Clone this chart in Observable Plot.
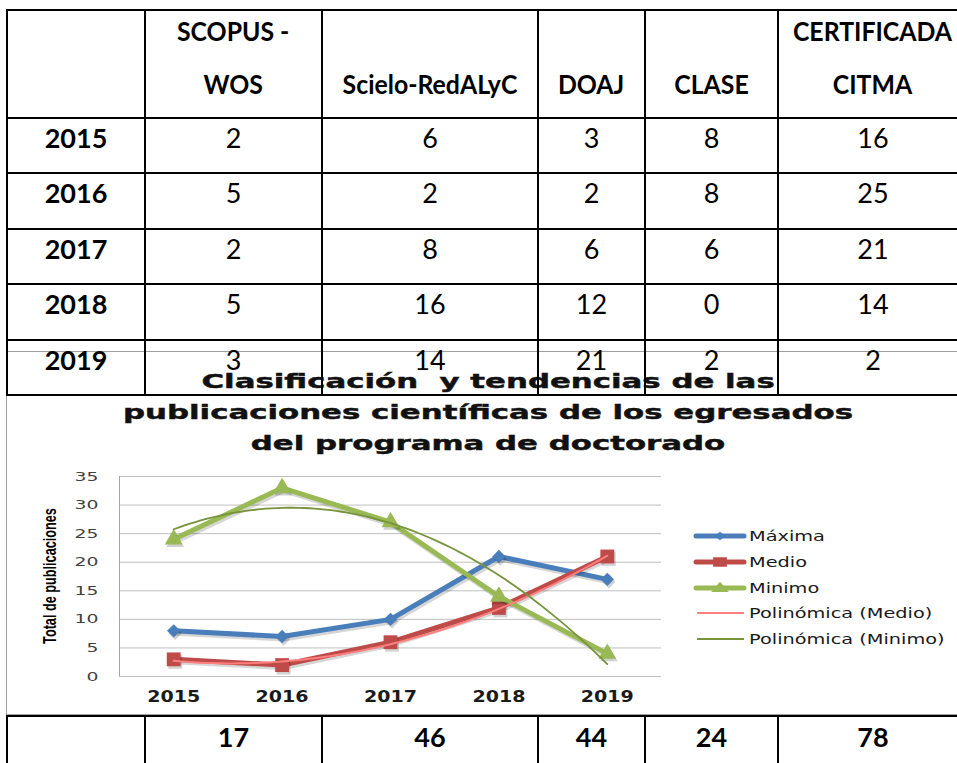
<!DOCTYPE html>
<html><head><meta charset="utf-8">
<script src="https://cdn.jsdelivr.net/npm/d3@7"></script>
<script src="https://cdn.jsdelivr.net/npm/@observablehq/plot@0.6"></script>
<style>
html,body{margin:0;padding:0;background:#fff;}
#root{position:relative;width:957px;height:763px;overflow:hidden;background:#fff;}
#box{position:absolute;left:6px;top:351px;width:1000px;height:362px;border:1.5px solid #a0a0a0;background:#fff;}
#title{position:absolute;left:0;top:366px;width:976px;text-align:center;font-family:"DejaVu Sans";font-weight:bold;font-size:20px;line-height:31px;color:#111;white-space:pre;-webkit-text-stroke:0.45px #111;}
#title div span{display:inline-block;transform:scaleX(1.54);}
#chart{position:absolute;left:7px;top:460px;}
#ytitle{position:absolute;left:50px;top:576px;transform-origin:0 0;transform:scaleX(1.5) rotate(-90deg) translate(-50%,-50%);font-family:"Liberation Sans";font-weight:bold;font-size:12.7px;white-space:nowrap;color:#000;}
.leg{position:absolute;height:20px;white-space:nowrap;}
.leg svg{position:absolute;left:0;top:0;}
.leg span{position:absolute;left:56px;top:0;line-height:20px;font-family:"DejaVu Sans";font-size:13.5px;color:#1a1a1a;transform-origin:0 50%;transform:scaleX(1.43);}
table{position:absolute;border-collapse:collapse;table-layout:fixed;font-family:Lato,"Liberation Sans",sans-serif;font-size:27px;color:#000;}
td,th{border:2px solid #000;padding:0;text-align:center;vertical-align:top;line-height:38px;overflow:visible;white-space:nowrap;}
th{font-weight:bold;}
td{font-weight:normal;}
tr.hdr th{vertical-align:bottom;line-height:53px;}
tr.hdr th span{position:relative;top:-7px;display:inline-block;transform:scaleX(0.92);}
#t2 td{font-weight:bold;line-height:40px;}
</style>
</head><body>
<div id="root">
  <div id="box"></div>
  <div id="title"></div>
  <div id="chart"></div>
  <div id="ytitle">Total de publicaciones</div>
  <div id="legend"></div>
  <table id="t1" style="left:6px;top:9px;"></table>
  <table id="t2" style="left:6px;top:715px;"></table>
</div>
<script>
// ---------- data ----------
const years = [2015, 2016, 2017, 2018, 2019];
const tableColumns = ["SCOPUS -\nWOS", "Scielo-RedALyC", "DOAJ", "CLASE", "CERTIFICADA\nCITMA"];
const scopusWos = [2, 5, 2, 5, 3];
const scieloRedalyc = [6, 2, 8, 16, 14];
const doaj = [3, 2, 6, 12, 21];
const clase = [8, 8, 6, 0, 2];
const citma = [16, 25, 21, 14, 2];
const totals = [17, 46, 44, 24, 78];

const maxima = [8, 7, 10, 21, 17];
const medio = [3, 2, 6, 12, 21];
const minimo = [24, 33, 27, 14, 4];
const yTicks = [0, 5, 10, 15, 20, 25, 30, 35];
const titleLines = ["Clasificación  y tendencias de las", "publicaciones científicas de los egresados", "del programa de doctorado"];
const legendLabels = ["Máxima", "Medio", "Minimo", "Polinómica (Medio)", "Polinómica (Minimo)"];

// ---------- table ----------
const colWidths = [138, 177, 216, 107, 133, 190];
const rowHeights = [55, 56, 55, 56, 55];
const tableValues = [scopusWos, scieloRedalyc, doaj, clase, citma];
function colgroup() { return "<colgroup>" + colWidths.map(w => `<col style="width:${w}px">`).join("") + "</colgroup>"; }
const t1 = document.getElementById("t1");
t1.style.width = d3.sum(colWidths) + "px";
let html = colgroup();
html += `<tr class="hdr" style="height:108px"><th></th>` + tableColumns.map(c => `<th><span>${c.replace("\n", "<br>")}</span></th>`).join("") + "</tr>";
years.forEach((y, i) => {
  html += `<tr style="height:${rowHeights[i]}px"><th>${y}</th>` + tableValues.map(v => `<td>${v[i]}</td>`).join("") + "</tr>";
});
t1.innerHTML = html;
const t2 = document.getElementById("t2");
t2.style.width = d3.sum(colWidths) + "px";
t2.innerHTML = colgroup() + `<tr style="height:60px"><td></td>` + totals.map(v => `<td>${v}</td>`).join("") + "</tr>";

// ---------- title ----------
document.getElementById("title").innerHTML = titleLines.map(l => `<div><span>${l}</span></div>`).join("");

// ---------- chart ----------
const colors = {max: "#4A7EBB", med: "#BE4B48", min: "#98B954", tMed: "#FF7F7F", tMin: "#77933C"};
const series = [
  {name: "Máxima", values: maxima, color: colors.max, symbol: "diamond2", r: 6, sx: 1.6},
  {name: "Medio", values: medio, color: colors.med, symbol: "square", r: 7.8, sx: 1.6},
  {name: "Minimo", values: minimo, color: colors.min, symbol: "triangle", r: 6.6, sx: 1.4}
];
const rows = s => years.map((y, i) => ({year: y, value: s.values[i]}));

function polyfit2(xs, ys) {
  const x0 = d3.mean(xs);
  const S = [0, 0, 0, 0, 0], T = [0, 0, 0];
  xs.forEach((x, i) => {
    const t = x - x0;
    for (let k = 0; k < 5; k++) S[k] += t ** k;
    for (let k = 0; k < 3; k++) T[k] += ys[i] * t ** k;
  });
  const A = [[S[0], S[1], S[2]], [S[1], S[2], S[3]], [S[2], S[3], S[4]]];
  const det = m => m[0][0]*(m[1][1]*m[2][2]-m[1][2]*m[2][1]) - m[0][1]*(m[1][0]*m[2][2]-m[1][2]*m[2][0]) + m[0][2]*(m[1][0]*m[2][1]-m[1][1]*m[2][0]);
  const D = det(A);
  const coef = [0, 1, 2].map(j => det(A.map((r, i) => r.map((v, k) => k === j ? T[i] : v))) / D);
  return x => coef[0] + coef[1] * (x - x0) + coef[2] * (x - x0) ** 2;
}
const samples = d3.range(0, 81).map(i => years[0] + i * (years[4] - years[0]) / 80);
const fMed = polyfit2(years, medio), fMin = polyfit2(years, minimo);
const trendMedio = samples.map(x => ({year: x, value: fMed(x)}));
const trendMinimo = samples.map(x => ({year: x, value: fMin(x)}));

const marks = [
  Plot.ruleY(yTicks, {stroke: "#bfbfbf", strokeWidth: 1}),
  Plot.ruleX([2014.5], {stroke: "#a6a6a6", strokeWidth: 1})
];
series.forEach((s, i) => {
  marks.push(Plot.line(rows(s), {x: "year", y: "value", stroke: "#000", strokeOpacity: 0.16, strokeWidth: 5, dx: 1.5, dy: 2.5, strokeLinejoin: "round", strokeLinecap: "round"}));
  marks.push(Plot.line(rows(s), {x: "year", y: "value", stroke: s.color, strokeWidth: 5, strokeLinejoin: "round", strokeLinecap: "round"}));
  marks.push(Plot.dot(rows(s), {x: "year", y: "value", symbol: s.symbol, r: s.r, fill: "#000", fillOpacity: 0.18, stroke: "none", dx: 1.5, dy: 2.5, ariaLabel: "sym" + i}));
  marks.push(Plot.dot(rows(s), {x: "year", y: "value", symbol: s.symbol, r: s.r, fill: s.color, stroke: "none", ariaLabel: "sym" + i}));
});
marks.push(Plot.line(trendMedio, {x: "year", y: "value", stroke: colors.tMed, strokeWidth: 2}));
marks.push(Plot.line(trendMinimo, {x: "year", y: "value", stroke: colors.tMin, strokeWidth: 1.8}));

const svg = Plot.plot({
  width: 950, height: 252,
  marginLeft: 112, marginRight: 296, marginTop: 16, marginBottom: 36,
  style: {fontFamily: "DejaVu Sans", fontSize: "12.8px", color: "#404040", background: "transparent", overflow: "visible"},
  x: {domain: [2014.5, 2019.5], ticks: years, tickFormat: d => String(d), tickSize: 0, tickPadding: 15, label: null},
  y: {domain: [0, 35], ticks: yTicks, tickSize: 0, tickPadding: 21, label: null},
  marks
});
svg.querySelectorAll('g[aria-label^="x-axis"] text').forEach(t => { t.style.fontWeight = "bold"; t.style.fontSize = "15px"; t.style.fill = "#1a1a1a"; });
document.getElementById("chart").appendChild(svg);

// horizontal stretch of rendered elements about an anchor point (emulates the stretched original picture)
const NS = "http://www.w3.org/2000/svg";
function stretchEl(el, k, anchorMode) {
  const r = el.getBoundingClientRect();
  const ax = anchorMode === "end" ? r.right : anchorMode === "start" ? r.left : (r.left + r.right) / 2;
  const ay = (r.top + r.bottom) / 2;
  const p = el.parentNode;
  const pt = new DOMPoint(ax, ay).matrixTransform(p.getScreenCTM().inverse());
  const g = document.createElementNS(NS, "g");
  g.setAttribute("transform", `translate(${pt.x},${pt.y}) scale(${k},1) translate(${-pt.x},${-pt.y})`);
  p.insertBefore(g, el);
  g.appendChild(el);
}
svg.querySelectorAll('g[aria-label^="y-axis"] text').forEach(t => stretchEl(t, 1.47, "end"));
svg.querySelectorAll('g[aria-label^="x-axis"] text').forEach(t => stretchEl(t, 1.27, "middle"));
series.forEach((s, i) => {
  svg.querySelectorAll(`g[aria-label="sym${i}"] path`).forEach(p => stretchEl(p, s.sx, "middle"));
});

// ---------- legend ----------
const legend = document.getElementById("legend");
const legendStyles = [
  {color: colors.max, w: 5, symbol: d3.symbolDiamond2, size: 45, sx: 1.3},
  {color: colors.med, w: 5, symbol: d3.symbolSquare, size: 90, sx: 1.45},
  {color: colors.min, w: 5, symbol: d3.symbolTriangle, size: 60, sx: 1.5},
  {color: colors.tMed, w: 2},
  {color: colors.tMin, w: 2}
];
legendLabels.forEach((lab, i) => {
  const st = legendStyles[i];
  const div = document.createElement("div");
  div.className = "leg";
  div.style.left = "693px";
  div.style.top = (536 + i * 25.75 - 10) + "px";
  let sw = `<svg width="56" height="20"><line x1="${st.symbol ? 3 : 4}" x2="51" y1="10" y2="10" stroke="${st.color}" stroke-width="${st.w}" stroke-linecap="${st.symbol ? "round" : "butt"}"/>`;
  if (st.symbol) sw += `<path transform="translate(27,${st.symbol === d3.symbolTriangle ? 10.5 : 10}) scale(${st.sx},1)" d="${d3.symbol(st.symbol, st.size)()}" fill="${st.color}"/>`;
  sw += "</svg>";
  div.innerHTML = sw + `<span>${lab}</span>`;
  legend.appendChild(div);
});
</script>
</body></html>
